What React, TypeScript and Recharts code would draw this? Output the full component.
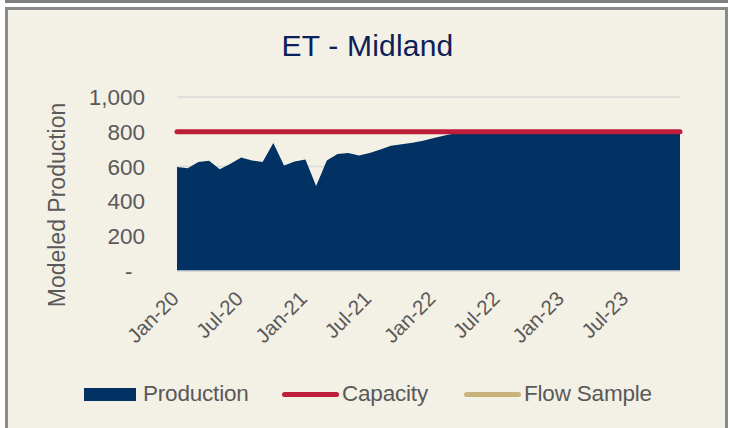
import React from 'react'
import { ComposedChart, Area, Line, XAxis, YAxis, CartesianGrid } from 'recharts'

const months = [
  'Jan-20', 'Feb-20', 'Mar-20', 'Apr-20', 'May-20', 'Jun-20', 'Jul-20', 'Aug-20', 'Sep-20', 'Oct-20', 'Nov-20', 'Dec-20',
  'Jan-21', 'Feb-21', 'Mar-21', 'Apr-21', 'May-21', 'Jun-21', 'Jul-21', 'Aug-21', 'Sep-21', 'Oct-21', 'Nov-21', 'Dec-21',
  'Jan-22', 'Feb-22', 'Mar-22', 'Apr-22', 'May-22', 'Jun-22', 'Jul-22', 'Aug-22', 'Sep-22', 'Oct-22', 'Nov-22', 'Dec-22',
  'Jan-23', 'Feb-23', 'Mar-23', 'Apr-23', 'May-23', 'Jun-23', 'Jul-23', 'Aug-23', 'Sep-23', 'Oct-23', 'Nov-23', 'Dec-23',
]

const production = [
  597, 591, 626, 633, 585, 616, 652, 635, 627, 735, 606, 629,
  641, 489, 635, 672, 678, 664, 678, 698, 720, 729, 737, 748,
  764, 779, 792, 796, 798, 798, 798, 798, 798, 798, 798, 798,
  798, 798, 798, 798, 798, 798, 798, 798, 798, 798, 798, 798,
]

const capacity = [
  800, 800, 800, 800, 800, 800, 800, 800, 800, 800, 800, 800,
  800, 800, 800, 800, 800, 800, 800, 800, 800, 800, 800, 800,
  800, 800, 800, 800, 800, 800, 800, 800, 800, 800, 800, 800,
  800, 800, 800, 800, 800, 800, 800, 800, 800, 800, 800, 800,
]

const yTicks = [0, 200, 400, 600, 800, 1000]

const NAVY = '#013263'
const RED = '#BE1E3A'
const TAN = '#C9B37A'
const GREY_TEXT = '#595959'
const FONT = '"Liberation Sans", Arial, sans-serif'

const data = months.map((m, i) => ({ month: m, production: production[i], capacity: capacity[i] }))

function XTick({ x, y, payload }: any) {
  const tx = x + 3
  const ty = y + 21
  return (
    <text
      x={tx}
      y={ty}
      transform={`rotate(-45, ${tx}, ${ty})`}
      textAnchor="end"
      fontSize={20.5}
      fill={GREY_TEXT}
      fontFamily={FONT}
    >
      {payload.value}
    </text>
  )
}

const formatY = (v: number) => (v === 0 ? '-\u00A0\u00A0' : v.toLocaleString('en-US'))

// legend sits outside the svg, items placed where the reference has them
function LegendItem({ label, color, left, box }: { label: string; color: string; left: number; box?: boolean }) {
  return (
    <div style={{ position: 'absolute', left, top: 0, height: 30, display: 'flex', alignItems: 'center' }}>
      <div
        style={{
          width: box ? 52 : 57,
          height: box ? 13 : 5,
          background: color,
          borderRadius: box ? 0 : 3,
          marginRight: box ? 7 : 3,
        }}
      />
      <span style={{ fontSize: 22.5, color: GREY_TEXT, fontFamily: FONT, letterSpacing: -0.2, whiteSpace: 'nowrap' }}>
        {label}
      </span>
    </div>
  )
}

export default function App() {
  return (
    <div style={{ position: 'absolute', top: 0, left: 0, width: 731, height: 428, background: '#fff', overflow: 'hidden' }}>
      <div style={{ position: 'absolute', left: 5, top: 0, width: 723, height: 3, background: '#7f7f7f' }} />
      <div
        style={{
          position: 'absolute',
          left: 5,
          top: 7,
          width: 723,
          height: 440,
          boxSizing: 'border-box',
          border: '3px solid #8a8a8a',
          background: '#F3F0E5',
        }}
      />
      <div
        style={{
          position: 'absolute',
          left: 0,
          width: 735,
          top: 29,
          textAlign: 'center',
          fontFamily: FONT,
          fontSize: 30,
          color: '#0B2158',
          letterSpacing: 0.2,
        }}
      >
        ET - Midland
      </div>
      <div style={{ position: 'absolute', left: 0, top: 0 }}>
        <ComposedChart width={731} height={428} data={data} margin={{ top: 97, right: 51, bottom: 127, left: 0 }}>
          <CartesianGrid vertical={false} stroke="#D9D9D9" strokeWidth={1.5} />
          <XAxis
            dataKey="month"
            scale="point"
            interval={5}
            height={30}
            tick={<XTick />}
            tickLine={false}
            axisLine={{ stroke: '#D9D9D9', strokeWidth: 1.5 }}
          />
          <YAxis
            domain={[0, 1000]}
            ticks={yTicks}
            width={177}
            tickFormatter={formatY}
            tickLine={false}
            axisLine={false}
            tickMargin={26}
            tick={{ fontSize: 22.5, fill: GREY_TEXT, fontFamily: FONT }}
            label={{
              content: () => (
                <text
                  x={57}
                  y={205}
                  transform="rotate(-90, 57, 205)"
                  textAnchor="middle"
                  dominantBaseline="central"
                  fontSize={23}
                  fill={GREY_TEXT}
                  fontFamily={FONT}
                >
                  Modeled Production
                </text>
              ),
            }}
          />
          <Area
            type="linear"
            dataKey="production"
            stroke="none"
            fill={NAVY}
            fillOpacity={1}
            isAnimationActive={false}
          />
          <Line
            type="linear"
            dataKey="capacity"
            stroke={RED}
            strokeWidth={5}
            strokeLinecap="round"
            dot={false}
            activeDot={false}
            isAnimationActive={false}
          />
        </ComposedChart>
      </div>
      <div style={{ position: 'absolute', left: 0, top: 379, width: 731, height: 30 }}>
        <LegendItem label="Production" color={NAVY} left={84} box />
        <LegendItem label="Capacity" color={RED} left={282} />
        <LegendItem label="Flow Sample" color={TAN} left={464} />
      </div>
    </div>
  )
}
